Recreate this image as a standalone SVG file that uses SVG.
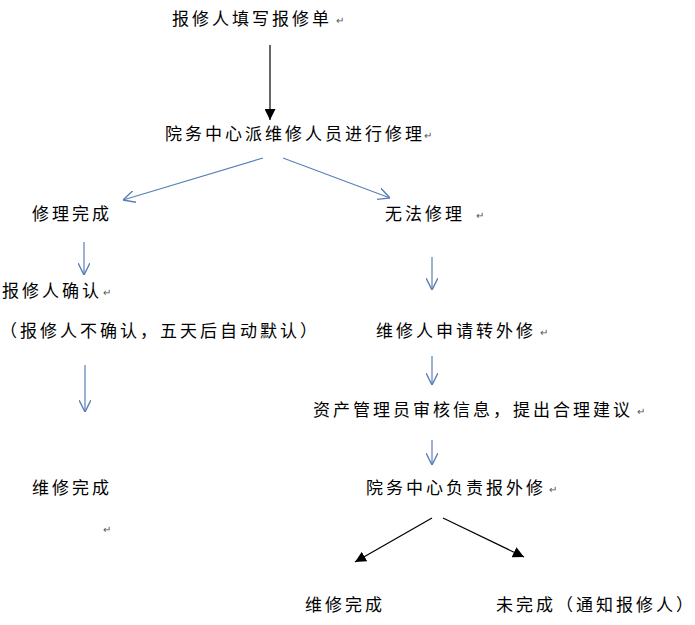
<svg xmlns="http://www.w3.org/2000/svg" width="695" height="625" viewBox="0 0 695 625">
<style>
text{font-family:"Noto Sans CJK SC","Liberation Sans",sans-serif;font-size:17px;fill:#000;letter-spacing:3px}
.pm{font-family:"Liberation Sans",sans-serif;font-size:10px;fill:#555;letter-spacing:0}
.b{stroke:#5b7fb5;stroke-width:1.2;fill:none}
.k{stroke:#000;stroke-width:1.2;fill:none}
</style>
<defs>
<marker id="ob" viewBox="0 0 10 10" refX="10" refY="5" markerWidth="12" markerHeight="12" markerUnits="userSpaceOnUse" orient="auto"><path d="M0,0L10,5L0,10" fill="none" stroke="#5b7fb5" stroke-width="1.2"/></marker>
<marker id="fk" viewBox="0 0 10 10" refX="10" refY="5" markerWidth="11" markerHeight="11" markerUnits="userSpaceOnUse" orient="auto"><path d="M0,0L10,5L0,10z" fill="#000"/></marker>
</defs>
<rect width="695" height="625" fill="#fff"/>
<g id="connectors">
<line class="k" x1="270" y1="45" x2="270" y2="120" marker-end="url(#fk)"/>
<line class="b" x1="263" y1="158" x2="123" y2="200" marker-end="url(#ob)"/>
<line class="b" x1="283" y1="158" x2="390" y2="198" marker-end="url(#ob)"/>
<line class="b" x1="84" y1="242" x2="84" y2="275" marker-end="url(#ob)"/>
<line class="b" x1="432" y1="257" x2="432" y2="290" marker-end="url(#ob)"/>
<line class="b" x1="85" y1="365" x2="85" y2="412" marker-end="url(#ob)"/>
<line class="b" x1="432" y1="356" x2="432" y2="385" marker-end="url(#ob)"/>
<line class="b" x1="432" y1="440" x2="432" y2="465" marker-end="url(#ob)"/>
<line class="k" x1="432" y1="518" x2="355" y2="562" marker-end="url(#fk)"/>
<line class="k" x1="443" y1="518" x2="524" y2="557" marker-end="url(#fk)"/>
</g>
<g id="n1"><text x="172" y="25">报修人填写报修单</text><text class="pm" x="336" y="24">↵</text></g>
<g id="n2"><text x="165" y="140">院务中心派维修人员进行修理</text><text class="pm" x="424" y="139">↵</text></g>
<g id="n3"><text x="32" y="220">修理完成</text></g>
<g id="n4"><text x="385" y="220">无法修理</text><text class="pm" x="476" y="219">↵</text></g>
<g id="n5"><text x="2" y="297">报修人确认</text><text class="pm" x="103" y="296">↵</text></g>
<g id="n6"><text x="0" y="337">（报修人不确认，五天后自动默认）</text></g>
<g id="n7"><text x="376" y="337">维修人申请转外修</text><text class="pm" x="540" y="336">↵</text></g>
<g id="n8"><text x="313" y="416">资产管理员审核信息，提出合理建议</text><text class="pm" x="637" y="415">↵</text></g>
<g id="n9"><text x="32" y="494">维修完成</text><text class="pm" x="103" y="533">↵</text></g>
<g id="n10"><text x="366" y="494">院务中心负责报外修</text><text class="pm" x="549" y="493">↵</text></g>
<g id="n11"><text x="305" y="611">维修完成</text></g>
<g id="n12"><text x="496" y="611">未完成（通知报修人）</text></g>
</svg>
